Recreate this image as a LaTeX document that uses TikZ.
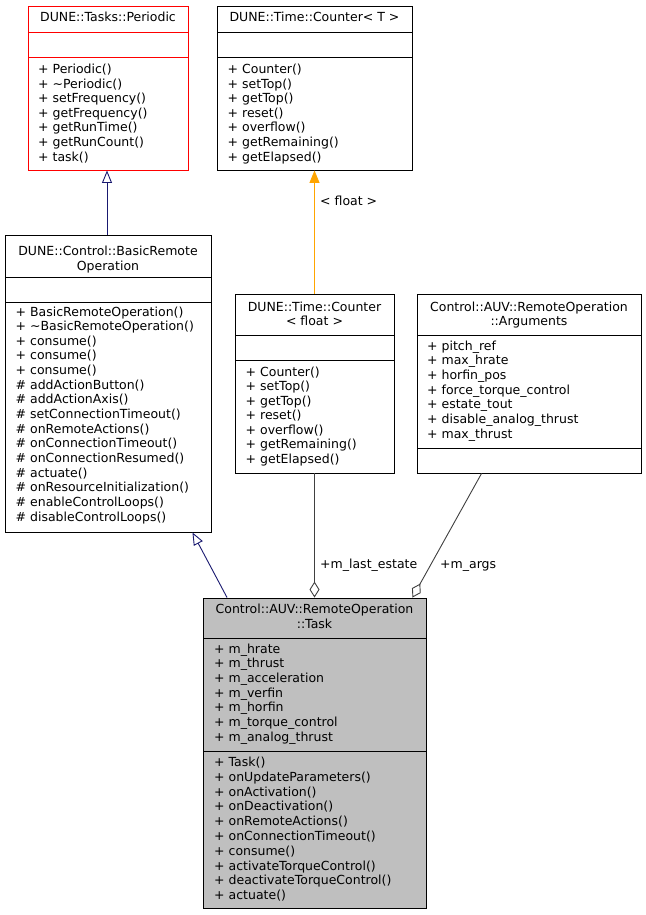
\documentclass[tikz,border=0pt]{standalone}
\usepackage{fontspec}
\setmainfont{DejaVu Sans}
\usetikzlibrary{arrows.meta,fit,calc}
\definecolor{navy}{HTML}{191970}
\definecolor{grey25}{HTML}{404040}
\definecolor{grey75}{HTML}{BFBFBF}
\definecolor{doxorange}{HTML}{FFA500}
\newcommand\classlines[5]{%
  \foreach \t [count=\i from 0] in {#5} \node[txt] (#1\i) at (#2,{#3+\i*#4}) {\t};}
\begin{document}
\begin{tikzpicture}[x=1pt,y=-1pt,
  txt/.style={inner sep=0pt, anchor=base west, font=\fontsize{12.5}{15}\selectfont},
  ttl/.style={inner sep=0pt, anchor=base, font=\fontsize{12.5}{15}\selectfont},
  cls/.style={draw=black, line width=0.9pt, inner sep=0pt},
  sep/.style={draw=black, line width=0.9pt},
  inh/.style={draw=navy, line width=0.9pt, -{Triangle[open, length=12.5pt, width=10pt]}},
  tmpl/.style={draw=doxorange, line width=0.9pt, -{Triangle[length=12.5pt, width=10pt]}, fill=doxorange},
  agg/.style={draw=grey25, line width=0.9pt, -{Diamond[open, length=16pt, width=10pt]}},
  lbl/.style={inner sep=0pt, anchor=base west, font=\fontsize{12.5}{15}\selectfont}]
\useasboundingbox (0,0) rectangle (645,915);
\fill[white] (0,0) rectangle (645,915);

% ---- DUNE::Tasks::Periodic
\node[cls, draw=red, fit={(28,6) (188,170)}] (periodic) {};
\draw[sep, draw=red] (28,32) -- (188,32);
\draw[sep, draw=red] (28,57) -- (188,57);
\node[ttl] (periodicT) at (108,22) {DUNE::Tasks::Periodic};
\classlines{pm}{38}{73.5}{14.6}{+ Periodic(), + \textasciitilde Periodic(), + setFrequency(), + getFrequency(), + getRunTime(), + getRunCount(), + task()}

% ---- DUNE::Time::Counter< T >
\node[cls, fit={(217,6) (412,170)}] (counterT) {};
\draw[sep] (217,32) -- (412,32);
\draw[sep] (217,57) -- (412,57);
\node[ttl] (counterTT) at (314.5,22) {DUNE::Time::Counter< T >};
\classlines{ctm}{227.5}{73.5}{14.6}{+ Counter(), + setTop(), + getTop(), + reset(), + overflow(), + getRemaining(), + getElapsed()}

% ---- DUNE::Control::BasicRemoteOperation
\node[cls, fit={(5,235) (211,532)}] (basic) {};
\draw[sep] (5,277) -- (211,277);
\draw[sep] (5,302) -- (211,302);
\node[ttl] (basicT1) at (108,255.5) {DUNE::Control::BasicRemote};
\node[ttl] (basicT2) at (108,270) {Operation};
\classlines{bm}{15.5}{316}{14.65}{+ BasicRemoteOperation(), + \textasciitilde BasicRemoteOperation(), + consume(), + consume(), + consume(), \# addActionButton(), \# addActionAxis(), \# setConnectionTimeout(), \# onRemoteActions(), \# onConnectionTimeout(), \# onConnectionResumed(), \# actuate(), \# onResourceInitialization(), \# enableControlLoops(), \# disableControlLoops()}

% ---- DUNE::Time::Counter< float >
\node[cls, fit={(235,294) (394,473)}] (cfloat) {};
\draw[sep] (235,335) -- (394,335);
\draw[sep] (235,360) -- (394,360);
\node[ttl] (cfloatT1) at (314.5,311) {DUNE::Time::Counter};
\node[ttl] (cfloatT2) at (314.5,325) {< float >};
\classlines{cfm}{245.5}{376}{14.55}{+ Counter(), + setTop(), + getTop(), + reset(), + overflow(), + getRemaining(), + getElapsed()}

% ---- Control::AUV::RemoteOperation::Arguments
\node[cls, fit={(417,294) (641,473)}] (args) {};
\draw[sep] (417,335) -- (641,335);
\draw[sep] (417,448) -- (641,448);
\node[ttl] (argsT1) at (529,311) {Control::AUV::RemoteOperation};
\node[ttl] (argsT2) at (529,325) {::Arguments};
\classlines{aa}{427}{350}{14.7}{+ pitch\_ref, + max\_hrate, + horfin\_pos, + force\_torque\_control, + estate\_tout, + disable\_analog\_thrust, + max\_thrust}

% ---- Control::AUV::RemoteOperation::Task
\node[cls, fill=grey75, fit={(203,598) (426,908)}] (task) {};
\draw[sep] (203,638) -- (426,638);
\draw[sep] (203,751.5) -- (426,751.5);
\node[ttl] (taskT1) at (314.5,613.5) {Control::AUV::RemoteOperation};
\node[ttl] (taskT2) at (314.5,628) {::Task};
\classlines{ta}{214}{653}{14.67}{+ m\_hrate, + m\_thrust, + m\_acceleration, + m\_verfin, + m\_horfin, + m\_torque\_control, + m\_analog\_thrust}
\classlines{tm}{214}{766.5}{14.8}{+ Task(), + onUpdateParameters(), + onActivation(), + onDeactivation(), + onRemoteActions(), + onConnectionTimeout(), + consume(), + activateTorqueControl(), + deactivateTorqueControl(), + actuate()}

% ---- connectors
\draw[inh] ($(basic.north)+(-1,0)$) -- ($(periodic.south)+(-1,0)$);
\draw[tmpl] (cfloat.north) -- (counterT.south);
\node[lbl] (tmplL) at (320,205) {< float >};
\draw[inh] ($(task.north west)+(24.5,0)$) -- ($(basic.south east)+(-19,0)$);
\draw[agg] (cfloat.south) -- (cfloat.south |- task.north);
\node[lbl] (lastL) at (320,568) {+m\_last\_estate};
\draw[agg] ($(args.south west)+(65,0)$) -- ($(task.north east)+(-14,0)$);
\node[lbl] (argsL) at (440,568) {+m\_args};
\end{tikzpicture}
\end{document}
